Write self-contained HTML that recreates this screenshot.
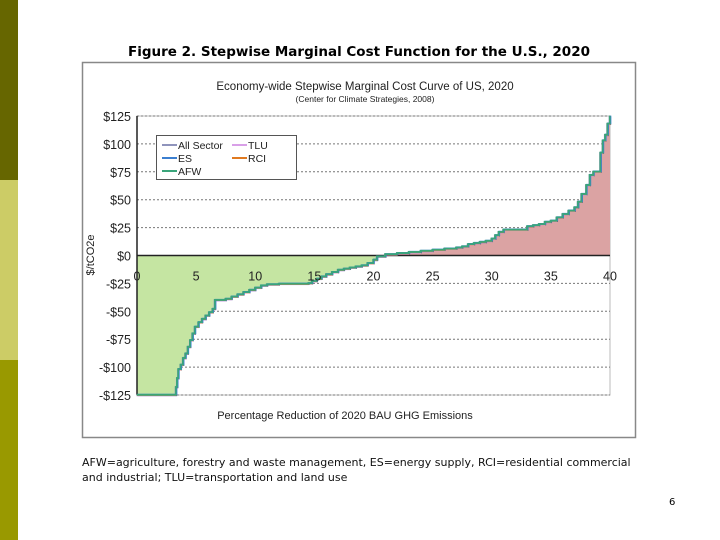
<!DOCTYPE html>
<html><head><meta charset="utf-8"><style>
body{margin:0;background:#fff;}
#page{position:relative;width:720px;height:540px;overflow:hidden;font-family:"Liberation Sans",sans-serif;}
</style></head><body>
<div id="page">
<div style="position:absolute;left:0;top:0;width:18px;height:180px;background:#666600"></div>
<div style="position:absolute;left:0;top:180px;width:18px;height:180px;background:#cccc66"></div>
<div style="position:absolute;left:0;top:360px;width:18px;height:180px;background:#999900"></div>
<div style="position:absolute;left:0;width:718px;top:44px;text-align:center;font-family:'DejaVu Sans',sans-serif;font-weight:bold;font-size:13.5px;color:#000">Figure 2. Stepwise Marginal Cost Function for the U.S., 2020</div>
<svg id="chart" width="720" height="540" style="position:absolute;left:0;top:0"></svg>
<div style="position:absolute;left:82px;top:455px;width:570px;font-family:'DejaVu Sans',sans-serif;font-size:11px;line-height:15px;color:#111">AFW=agriculture, forestry and waste management, ES=energy supply, RCI=residential commercial and industrial; TLU=transportation and land use</div>
<div style="position:absolute;left:669px;top:497px;font-family:'DejaVu Sans',sans-serif;font-size:10px">6</div>
</div>
<script>
const xs=[0,3.2,3.3,3.4,3.5,3.7,3.9,4.1,4.3,4.5,4.7,4.9,5.2,5.5,5.8,6.1,6.4,6.6,7.5,8,8.5,9,9.5,10,10.5,11,12,14.5,14.8,15.2,15.6,16,16.5,17,17.5,18,18.5,19,19.5,20,20.3,21,22,23,24,25,26,27,27.5,28,28.5,29,29.5,30,30.3,30.6,31,32,33,33.5,34,34.5,35,35.5,36,36.5,37,37.3,37.6,38,38.3,38.6,39,39.2,39.4,39.6,39.8,40];
const ys=[-125,-125,-118,-110,-102,-98,-92,-88,-82,-76,-70,-64,-60,-57,-54,-51,-48,-40,-39,-37,-35,-33,-31,-29,-27,-26,-25.5,-25,-23,-21,-19,-17,-15,-13,-12,-11,-10,-9,-7,-4,-1,1,2,3,4,5,6,7,8,10,11,12,13,15,18,21,23,23,26,27,28,30,31,34,37,40,43,48,55,63,72,75,75,92,103,108,118,125];
const yTicks=[125,100,75,50,25,0,-25,-50,-75,-100,-125];
const yLabels=["$125","$100","$75","$50","$25","$0","-$25","-$50","-$75","-$100","-$125"];
const xTicks=[0,5,10,15,20,25,30,35,40];
const legendNames=["All Sector","TLU","ES","RCI","AFW"];
const legendColors=["#1f2a7a","#d9a0e8","#3b7fd0","#e07a20","#3aa57a"];

const NS="http://www.w3.org/2000/svg";
const svg=document.getElementById('chart');
const X=v=>137+v*(610-137)/40;
const Y=v=>255.5-v*(279/250);
function mk(t,a,p){const e=document.createElementNS(NS,t);for(const k in a)e.setAttribute(k,a[k]);(p||svg).appendChild(e);return e;}

const frame=mk('rect',{x:82.5,y:62.5,width:553,height:375,fill:'#fff',stroke:'#888','stroke-width':1.5});


const t1=mk('text',{x:365,y:90,'text-anchor':'middle','font-size':11.5,fill:'#222'});t1.textContent='Economy-wide Stepwise Marginal Cost Curve of US, 2020';


const t2=mk('text',{x:365,y:102,'text-anchor':'middle','font-size':8.5,fill:'#222'});t2.textContent='(Center for Climate Strategies, 2008)';



mk('rect',{x:X(0),y:Y(125),width:X(40)-X(0),height:Y(-125)-Y(125),fill:'#fff',stroke:'#bbb'});
yTicks.forEach((v,i)=>{
 if(v!==0){const g=mk('line',{x1:X(0),x2:X(40),y1:Y(v),y2:Y(v),stroke:'#777','stroke-dasharray':'2,2','stroke-width':1});
 
 }
 const l=mk('text',{x:X(0)-6,y:Y(v)+5,'text-anchor':'end','font-size':12.5,fill:'#222'});l.textContent=yLabels[i];
 
 
});
let d='M'+X(xs[0])+','+Y(ys[0]);
for(let i=1;i<xs.length;i++){d+=' L'+X(xs[i])+','+Y(ys[i-1])+' L'+X(xs[i])+','+Y(ys[i]);}
const area=d+' L'+X(40)+','+Y(0)+' L'+X(0)+','+Y(0)+' Z';
const defs=mk('defs',{});
const c1=mk('clipPath',{id:'above'},defs);mk('rect',{x:X(0),y:Y(125),width:X(40)-X(0),height:Y(0)-Y(125)},c1);
const c2=mk('clipPath',{id:'below'},defs);mk('rect',{x:X(0),y:Y(0),width:X(40)-X(0),height:Y(-125)-Y(0)},c2);
const pa=mk('path',{d:area,fill:'#dba3a3','clip-path':'url(#above)'});


const pb=mk('path',{d:area,fill:'#c5e5a2','clip-path':'url(#below)'});


const z=mk('line',{x1:X(0),x2:X(40),y1:Y(0),y2:Y(0),stroke:'#222','stroke-width':1.5});


const ya=mk('line',{x1:X(0),x2:X(0),y1:Y(125),y2:Y(-125),stroke:'#222','stroke-width':1.5});


const offs=[[0.6,0.6],[-0.5,0.3],[0,0],[0.4,-0.4],[-0.3,-0.2]];
[0,1,3,2,4].forEach((ci,k)=>{
 const p=mk('path',{d:d,fill:'none',stroke:legendColors[ci],'stroke-width':ci==0?1:1.8,transform:'translate('+offs[k][0]+','+offs[k][1]+')'});
 
 
});
xTicks.forEach(v=>{
 const l=mk('text',{x:X(v),y:Y(0)+25,'text-anchor':'middle','font-size':12.5,fill:'#222'});l.textContent=v;
 
 
});
const xt=mk('text',{x:345,y:419,'text-anchor':'middle','font-size':11,fill:'#222'});xt.textContent='Percentage Reduction of 2020 BAU GHG Emissions';


const yt=mk('text',{x:0,y:0,'text-anchor':'middle','font-size':11,fill:'#222',transform:'translate(94,255) rotate(-90)'});yt.textContent='$/tCO2e';


const lg=mk('g',{});


mk('rect',{x:156.5,y:135.5,width:140,height:44,fill:'#fff',stroke:'#555'},lg);
legendNames.forEach((n,i)=>{
 const cx=162+(i%2)*70, cy=145+Math.floor(i/2)*13;
 const e=mk('g',{},lg);
 
 
 mk('line',{x1:cx,x2:cx+15,y1:cy,y2:cy,stroke:legendColors[i],'stroke-width':i==0?1:2},e);
 const tx=mk('text',{x:cx+16,y:cy+4,'font-size':10.5,fill:'#222'},e);tx.textContent=n;
});
</script>
</body></html>
